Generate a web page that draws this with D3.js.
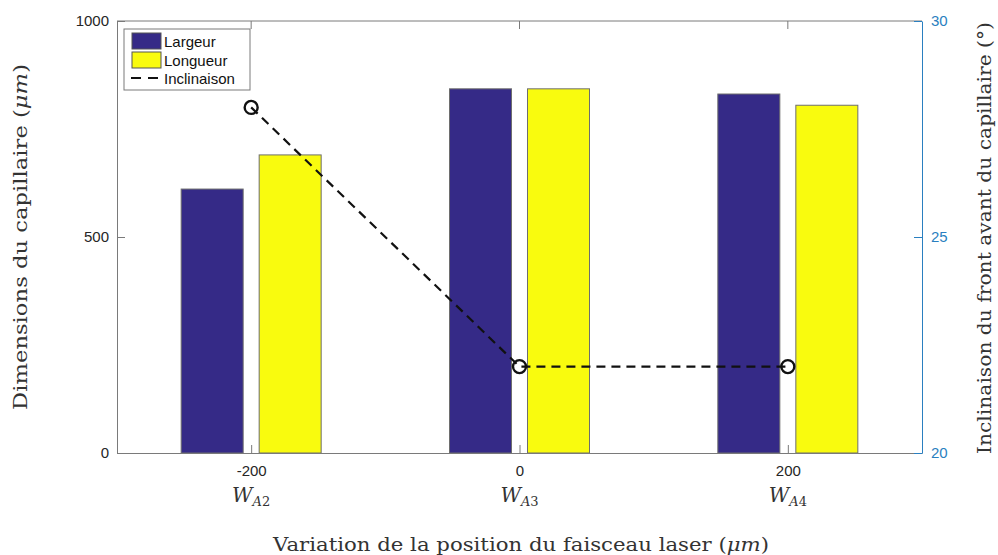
<!DOCTYPE html>
<html><head><meta charset="utf-8">
<script src="https://cdn.jsdelivr.net/npm/d3@7"></script>
<style>body{margin:0;background:#fff}svg{display:block}</style>
</head><body>
<svg id="c" width="998" height="555"></svg>
<script>
const positions = [-200, 0, 200];
const caseLabels = ["A2", "A3", "A4"];
const largeur = [611, 843, 831];
const longueur = [690, 843, 805];
const inclinaison = [28.0, 22.0, 22.0];
const leftTicks = [0, 500, 1000];
const rightTicks = [20, 25, 30];
const xTicks = [-200, 0, 200];

const svg = d3.select("#c");
const L = 117, R = 922, T = 21, B = 453;
const x = d3.scaleLinear().domain([-300, 300]).range([L, R]);
const y = d3.scaleLinear().domain([0, 1000]).range([B, T]);
const y2 = d3.scaleLinear().domain([20, 30]).range([B, T]);
const series = [{name:"Largeur", vals:largeur, color:"#352a87"}, {name:"Longueur", vals:longueur, color:"#f9fb0e"}];
const sub = d3.scaleBand().domain(series.map(s=>s.name)).range([-70, 70]).paddingInner(16/78).paddingOuter(0);

const sans = "'Liberation Sans', Arial, sans-serif";
const serif = "'DejaVu Serif', 'Liberation Serif', serif";
const axisCol = "#7a7a7a", blue = "#2a7fc0", titleCol = "#333";
const fmt = d => String(d);

// bars
series.forEach(s => {
  svg.append("g").selectAll("rect").data(positions).join("rect")
    .attr("x", (d) => x(d) + sub(s.name))
    .attr("width", sub.bandwidth())
    .attr("y", (d,i) => y(s.vals[i]))
    .attr("height", (d,i) => B - y(s.vals[i]))
    .attr("fill", s.color).attr("stroke", "#6e6e6e").attr("stroke-width", 1);
});

// top frame
svg.append("line").attr("x1", L).attr("x2", R).attr("y1", T).attr("y2", T).attr("stroke", axisCol);
// bottom axis
const xAxis = d3.axisBottom(x).tickValues(xTicks).tickSizeInner(-8).tickSizeOuter(0).tickFormat(fmt);
const gx = svg.append("g").attr("transform", `translate(0,${B})`).call(xAxis);
gx.select(".domain").attr("stroke", axisCol);
gx.selectAll(".tick line").attr("stroke", axisCol);
gx.selectAll(".tick text").attr("font-family", sans).attr("font-size", 15).attr("fill", "#262626").attr("y", 12).attr("dy", "0.71em");
// top ticks
svg.append("g").selectAll("line").data(xTicks).join("line")
  .attr("x1", d=>x(d)).attr("x2", d=>x(d)).attr("y1", T).attr("y2", T+8).attr("stroke", axisCol);

// left axis
const gy = svg.append("g").attr("transform", `translate(${L},0)`)
  .call(d3.axisLeft(y).tickValues(leftTicks).tickSizeInner(-8).tickSizeOuter(0).tickFormat(fmt));
gy.select(".domain").attr("stroke", axisCol);
gy.selectAll(".tick line").attr("stroke", axisCol);
gy.selectAll(".tick text").attr("font-family", sans).attr("font-size", 15).attr("fill", "#262626").attr("x", -8);

// right axis
const gy2 = svg.append("g").attr("transform", `translate(${R},0)`)
  .call(d3.axisRight(y2).tickValues(rightTicks).tickSizeInner(-8).tickSizeOuter(0).tickFormat(fmt));
gy2.select(".domain").attr("stroke", blue);
gy2.selectAll(".tick line").attr("stroke", blue);
gy2.selectAll(".tick text").attr("font-family", sans).attr("font-size", 15).attr("fill", blue).attr("x", 9);

// inclinaison line
const line = d3.line().x((d,i)=>x(positions[i])).y(d=>y2(d));
svg.append("path").datum(inclinaison).attr("d", line).attr("fill", "none")
  .attr("stroke", "#111").attr("stroke-width", 2.2).attr("stroke-dasharray", "9,6");
svg.append("g").selectAll("circle").data(inclinaison).join("circle")
  .attr("cx", (d,i)=>x(positions[i])).attr("cy", d=>y2(d)).attr("r", 6.5)
  .attr("fill", "none").attr("stroke", "#111").attr("stroke-width", 2.4);

// case labels
const cl = svg.append("g").selectAll("text").data(caseLabels).join("text")
  .attr("x", (d,i)=>x(positions[i])).attr("y", 502).attr("text-anchor", "middle")
  .attr("font-family", serif).attr("font-size", 20).attr("fill", titleCol);
cl.append("tspan").attr("font-style", "italic").text("W");
cl.append("tspan").attr("font-style", "italic").attr("font-size", 13).attr("dy", 4).text(d=>d[0]);
cl.append("tspan").attr("font-size", 13).text(d=>d.slice(1));

// axis titles
const xt = svg.append("text").attr("x", 521).attr("y", 551).attr("text-anchor", "middle")
  .attr("font-family", serif).attr("font-size", 19).attr("fill", titleCol)
  .attr("textLength", 496).attr("lengthAdjust", "spacingAndGlyphs");
xt.append("tspan").text("Variation de la position du faisceau laser (");
xt.append("tspan").attr("font-style", "italic").text("μm");
xt.append("tspan").text(")");

const yt = svg.append("text").attr("transform", "translate(27,237) rotate(-90)").attr("text-anchor", "middle")
  .attr("font-family", serif).attr("font-size", 19).attr("fill", titleCol)
  .attr("textLength", 346).attr("lengthAdjust", "spacingAndGlyphs");
yt.append("tspan").text("Dimensions du capillaire (");
yt.append("tspan").attr("font-style", "italic").text("μm");
yt.append("tspan").text(")");

svg.append("text").attr("transform", "translate(991,238) rotate(-90)").attr("text-anchor", "middle")
  .attr("font-family", serif).attr("font-size", 19).attr("fill", titleCol)
  .attr("textLength", 432).attr("lengthAdjust", "spacingAndGlyphs")
  .text("Inclinaison du front avant du capillaire (°)");

// legend
const lg = svg.append("g").attr("transform", "translate(124,29)");
lg.append("rect").attr("width", 126).attr("height", 61).attr("fill", "#fff").attr("stroke", axisCol);
series.forEach((s,i) => {
  lg.append("rect").attr("x", 8).attr("y", 4 + i*19).attr("width", 29).attr("height", 16)
    .attr("fill", s.color).attr("stroke", "#555");
  lg.append("text").attr("x", 40).attr("y", 18 + i*19).attr("font-family", sans).attr("font-size", 15)
    .attr("fill", "#111").text(s.name);
});
lg.append("line").attr("x1", 7).attr("x2", 38).attr("y1", 49).attr("y2", 49)
  .attr("stroke", "#111").attr("stroke-width", 2.2).attr("stroke-dasharray", "10,7");
lg.append("text").attr("x", 40).attr("y", 55).attr("font-family", sans).attr("font-size", 15)
  .attr("fill", "#111").text("Inclinaison");
</script>
</body></html>
